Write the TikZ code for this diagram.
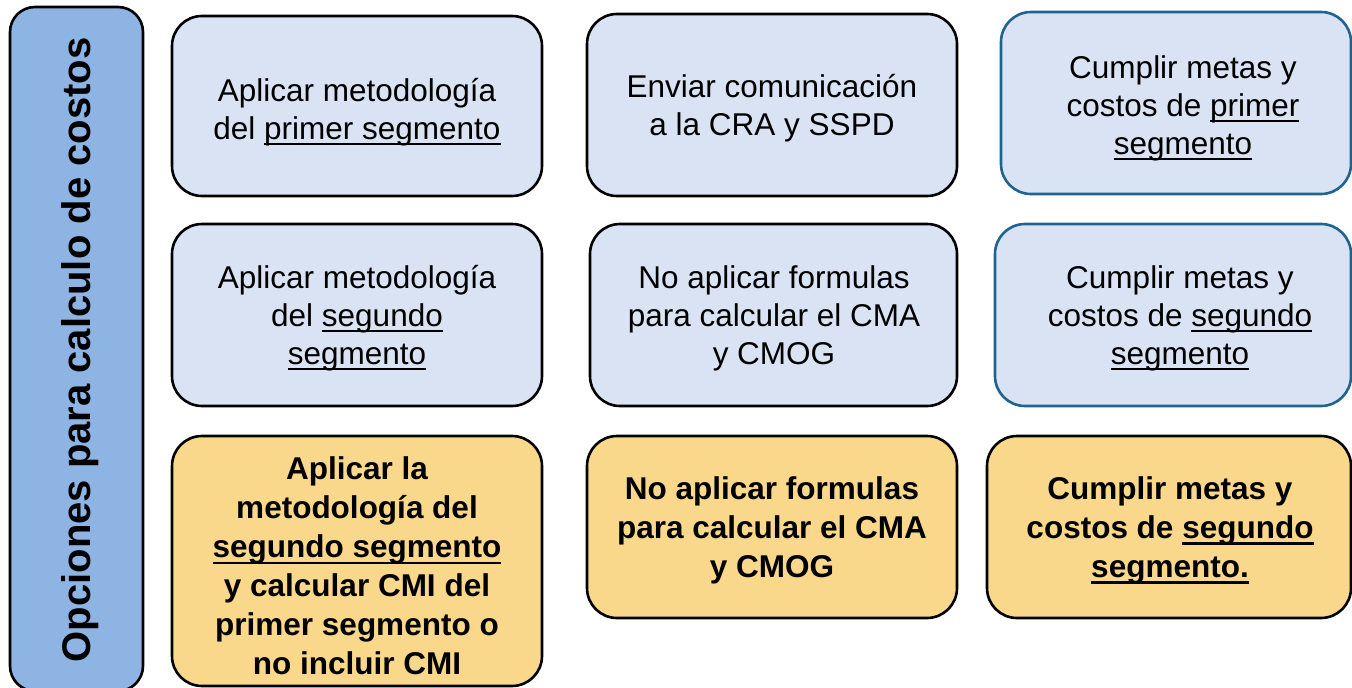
\documentclass[tikz,border=0pt]{standalone}
\usepackage{fontspec}
\setmainfont{Liberation Sans}
\definecolor{lblue}{HTML}{DAE3F3}
\definecolor{barblue}{HTML}{8EB4E3}
\definecolor{lorange}{HTML}{F9D78B}
\definecolor{dblue}{HTML}{1F6391}
\newcommand\myul[1]{\setbox0\hbox{#1}\rlap{\rule[-6pt]{\wd0}{2pt}}\box0}
\newcommand\myulb[1]{\setbox0\hbox{#1}\rlap{\rule[-6.5pt]{\wd0}{2.6pt}}\box0}
\tikzset{
  card/.style={draw=black, line width=2.6pt, rounded corners=30pt, inner sep=0pt},
  bluecard/.style={card, fill=lblue},
  bluecardb/.style={card, fill=lblue, draw=dblue},
  orangecard/.style={card, fill=lorange},
  txt/.style={align=center, inner sep=0pt, font=\fontsize{31.5}{38}\selectfont},
  btxt/.style={align=center, inner sep=0pt, font=\bfseries\fontsize{31.5}{39}\selectfont},
}
\begin{document}
\begin{tikzpicture}[x=1pt,y=-1pt]
\path[use as bounding box] (0,0) rectangle (1352,688);
\begin{scope}
\clip (0,0) rectangle (1352,688);
% left bar
\node[card, fill=barblue, rounded corners=25pt, minimum width=133pt, minimum height=684pt] (bar) at (76.5,349) {};
\node[rotate=90, inner sep=0pt, font=\bfseries\fontsize{40}{48}\selectfont] (bartxt) at (80,350) {Opciones para calculo de costos};
% row 1
\node[bluecard, minimum width=370pt, minimum height=180pt] (b11) at (357,106) {};
\node[bluecard, minimum width=370pt, minimum height=182pt] (b12) at (772,105) {};
\node[bluecardb, minimum width=350pt, minimum height=182pt] (b13) at (1176,103) {};
% row 2
\node[bluecard, minimum width=370pt, minimum height=182pt] (b21) at (357,315) {};
\node[bluecard, minimum width=367pt, minimum height=182pt] (b22) at (773.5,315) {};
\node[bluecardb, minimum width=356pt, minimum height=182pt] (b23) at (1173,315) {};
% row 3
\node[orangecard, minimum width=370pt, minimum height=250pt] (b31) at (357,561) {};
\node[orangecard, minimum width=370pt, minimum height=182pt] (b32) at (772,527) {};
\node[orangecard, minimum width=364pt, minimum height=182pt] (b33) at (1169,527) {};
\end{scope}
% texts
\node[txt] (t11) at (357,112) {Aplicar metodología\\del \myul{primer segmento}};
\node[txt] (t12) at (772,108) {Enviar comunicación\\a la CRA y SSPD};
\node[txt] (t13) at (1183,108) {Cumplir metas y\\costos de \myul{primer}\\\myul{segmento}};
\node[txt] (t21) at (357,318) {Aplicar metodología\\del \myul{segundo}\\\myul{segmento}};
\node[txt] (t22) at (774,318) {No aplicar formulas\\para calcular el CMA\\y CMOG};
\node[txt] (t23) at (1180,318) {Cumplir metas y\\costos de \myul{segundo}\\\myul{segmento}};
\node[btxt] (t31) at (357,566) {Aplicar la\\metodología del\\\myulb{segundo segmento}\\y calcular CMI del\\primer segmento o\\no incluir CMI};
\node[btxt] (t32) at (772,530) {No aplicar formulas\\para calcular el CMA\\y CMOG};
\node[btxt] (t33) at (1170,530) {Cumplir metas y\\costos de \myulb{segundo}\\\myulb{segmento.}};
\end{tikzpicture}
\end{document}
